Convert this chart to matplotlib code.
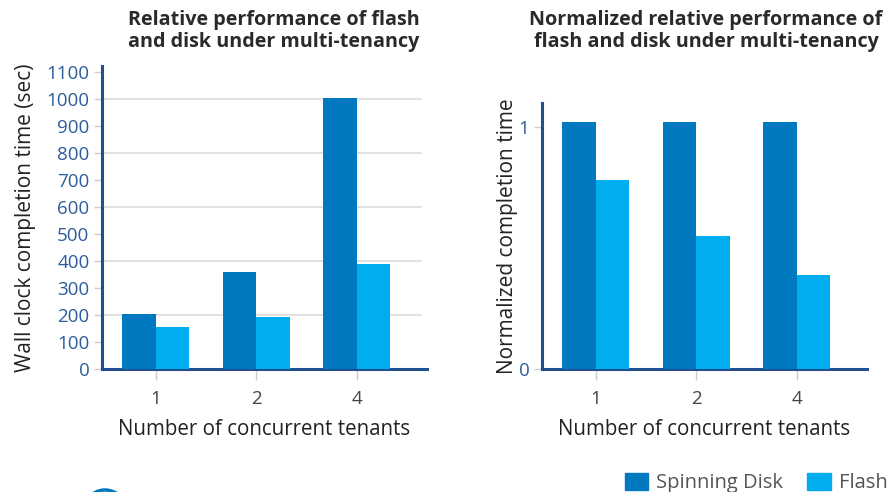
import matplotlib
matplotlib.use("Agg")
import matplotlib.pyplot as plt
import numpy as np
from matplotlib.patches import Patch, Ellipse

plt.rcParams['font.family'] = ['Open Sans', 'DejaVu Sans']

tenants = ["1", "2", "4"]
disk_time = [204, 359, 1007]
flash_time = [155, 193, 389]
disk_norm = [1.02, 1.02, 1.02]
flash_norm = [0.78, 0.55, 0.39]
left_yticks = [0, 100, 200, 300, 400, 500, 600, 700, 800, 900, 1000, 1100]
left_grid = [200, 400, 600, 800, 1000]
right_yticks = [0, 1]

C_DISK = "#0079c1"
C_FLASH = "#00aeef"
C_AXIS = "#1f4f8f"
C_YTICK = "#2b5d9c"
C_TEXT = "#222222"
C_XTICK = "#444444"
C_TICKMARK = "#cccccc"

W, H = 893, 492
fig = plt.figure(figsize=(W / 100, H / 100), dpi=100)

def fx(px):
    return px / W

def fy(py):
    return 1 - py / H

ax1 = fig.add_axes([fx(102), fy(369), fx(325), (369 - 66) / H])
ax2 = fig.add_axes([fx(542), fy(369), fx(325), (369 - 103) / H])

x = np.arange(len(tenants))
bw = 0.333

for ax, d, f in ((ax1, disk_time, flash_time), (ax2, disk_norm, flash_norm)):
    ax.bar(x - bw / 2, d, bw, color=C_DISK, zorder=3)
    ax.bar(x + bw / 2, f, bw, color=C_FLASH, zorder=3)
    ax.set_xlim(-0.535, 2.70)
    ax.set_xticks(x)
    ax.set_xticklabels(tenants)
    for s in ("top", "right"):
        ax.spines[s].set_visible(False)
    for s in ("left", "bottom"):
        ax.spines[s].set_color(C_AXIS)
        ax.spines[s].set_linewidth(2.2)
    ax.tick_params(axis="x", colors=C_TICKMARK, length=8, width=1, labelcolor=C_XTICK,
                   labelsize=13.5, pad=7)
    ax.tick_params(axis="y", colors=C_TICKMARK, length=6, width=1, labelcolor=C_YTICK,
                   labelsize=13.5, pad=3)
    ax.set_xlabel("Number of concurrent tenants", fontsize=14.8, color=C_TEXT, labelpad=8)

ax1.set_ylim(0, 1124)
ax1.set_yticks(left_yticks)
for g in left_grid:
    ax1.axhline(g, xmax=(421 - 102) / 325, color="#d9d9d9", lw=1.1, zorder=1)
ax1.set_ylabel("Wall clock completion time (sec)", fontsize=15, color=C_TEXT, labelpad=7.5)

ax2.set_ylim(0, 1.10)
ax2.set_yticks(right_yticks)
ax2.set_ylabel("Normalized completion time", fontsize=15, color=C_TEXT, labelpad=0.5)

fig.text(fx(274), fy(31), "Relative performance of flash\nand disk under multi-tenancy",
         ha="center", va="center", fontsize=14.2, fontweight="bold", color="#2a2a2a",
         linespacing=1.1)
fig.text(fx(706), fy(31), "Normalized relative performance of\nflash and disk under multi-tenancy",
         ha="center", va="center", fontsize=14.2, fontweight="bold", color="#2a2a2a",
         linespacing=1.1)

handles = [Patch(color=C_DISK, label="Spinning Disk"), Patch(color=C_FLASH, label="Flash")]
fig.legend(handles=handles, loc="center left", bbox_to_anchor=(fx(625), fy(483)),
           frameon=False, ncol=2, fontsize=14.5, handlelength=1.15, handleheight=0.9,
           handletextpad=0.4, columnspacing=1.2, labelcolor="#555555",
           borderaxespad=0, borderpad=0)

fig.add_artist(Ellipse((fx(105), fy(520)), fx(50), 60 / H, transform=fig.transFigure,
                       facecolor="none", edgecolor=C_DISK, lw=2.5))

fig.savefig("out.png", dpi=100)
